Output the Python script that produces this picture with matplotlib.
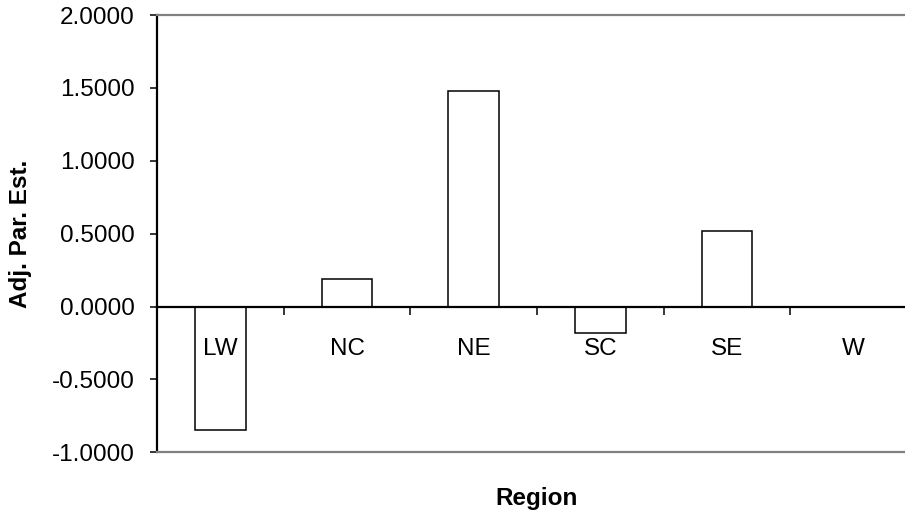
import matplotlib.pyplot as plt
import numpy as np

plt.rcParams['font.family'] = ['Liberation Sans', 'DejaVu Sans']

regions = ["LW", "NC", "NE", "SC", "SE", "W"]
estimates = [-0.845, 0.191, 1.481, -0.182, 0.520, 0.0]
y_ticks = [-1.0, -0.5, 0.0, 0.5, 1.0, 1.5, 2.0]

fs = 17.5
y_min, y_max = -1.0, 2.0

fig = plt.figure(figsize=(9.05, 5.15), dpi=100)
# the plot area runs past the right edge of the picture, as in the original
ax = fig.add_axes([157 / 905, 1 - 452.25 / 515, 760 / 905, 437.25 / 515])

x = np.arange(len(regions))
ax.bar(x, estimates, width=0.40, color="white", edgecolor="black", linewidth=1.1, zorder=1)

ax.set_xlim(-0.5, len(regions) - 0.5)
ax.set_ylim(y_min, y_max)

# y axis
ax.set_yticks(y_ticks)
ax.set_yticklabels([f"{v:.4f}" for v in y_ticks], fontsize=fs)
ax.tick_params(axis="y", direction="out", length=5, width=1.1, pad=11)
ax.set_ylabel("Adj. Par. Est.", fontsize=fs, fontweight="bold", labelpad=14)

# plot area border: grey top/bottom, black value axis
ax.spines["left"].set_linewidth(1.6)
ax.spines["right"].set_visible(False)
for side in ("top", "bottom"):
    ax.spines[side].set_color("#808080")
    ax.spines[side].set_linewidth(1.6)
ax.set_xticks([])

# category axis crosses at zero
zero_frac = (0 - y_min) / (y_max - y_min)
cat = ax.secondary_xaxis(zero_frac)
cat.set_zorder(5)
cat.spines["bottom"].set_linewidth(1.6)
cat.set_xticks(np.arange(0.5, len(regions) - 0.5))
cat.set_xticklabels([])
cat.tick_params(axis="x", which="major", direction="out", length=6, width=1.1)
cat.set_xticks(x, minor=True)
cat.set_xticklabels(regions, minor=True, fontsize=fs)
cat.tick_params(axis="x", which="minor", length=0, pad=23)

fig.text(537 / 905, 1 - 499 / 515, "Region", fontsize=fs, fontweight="bold",
         ha="center", va="center")

fig.savefig("out.png", dpi=100)
